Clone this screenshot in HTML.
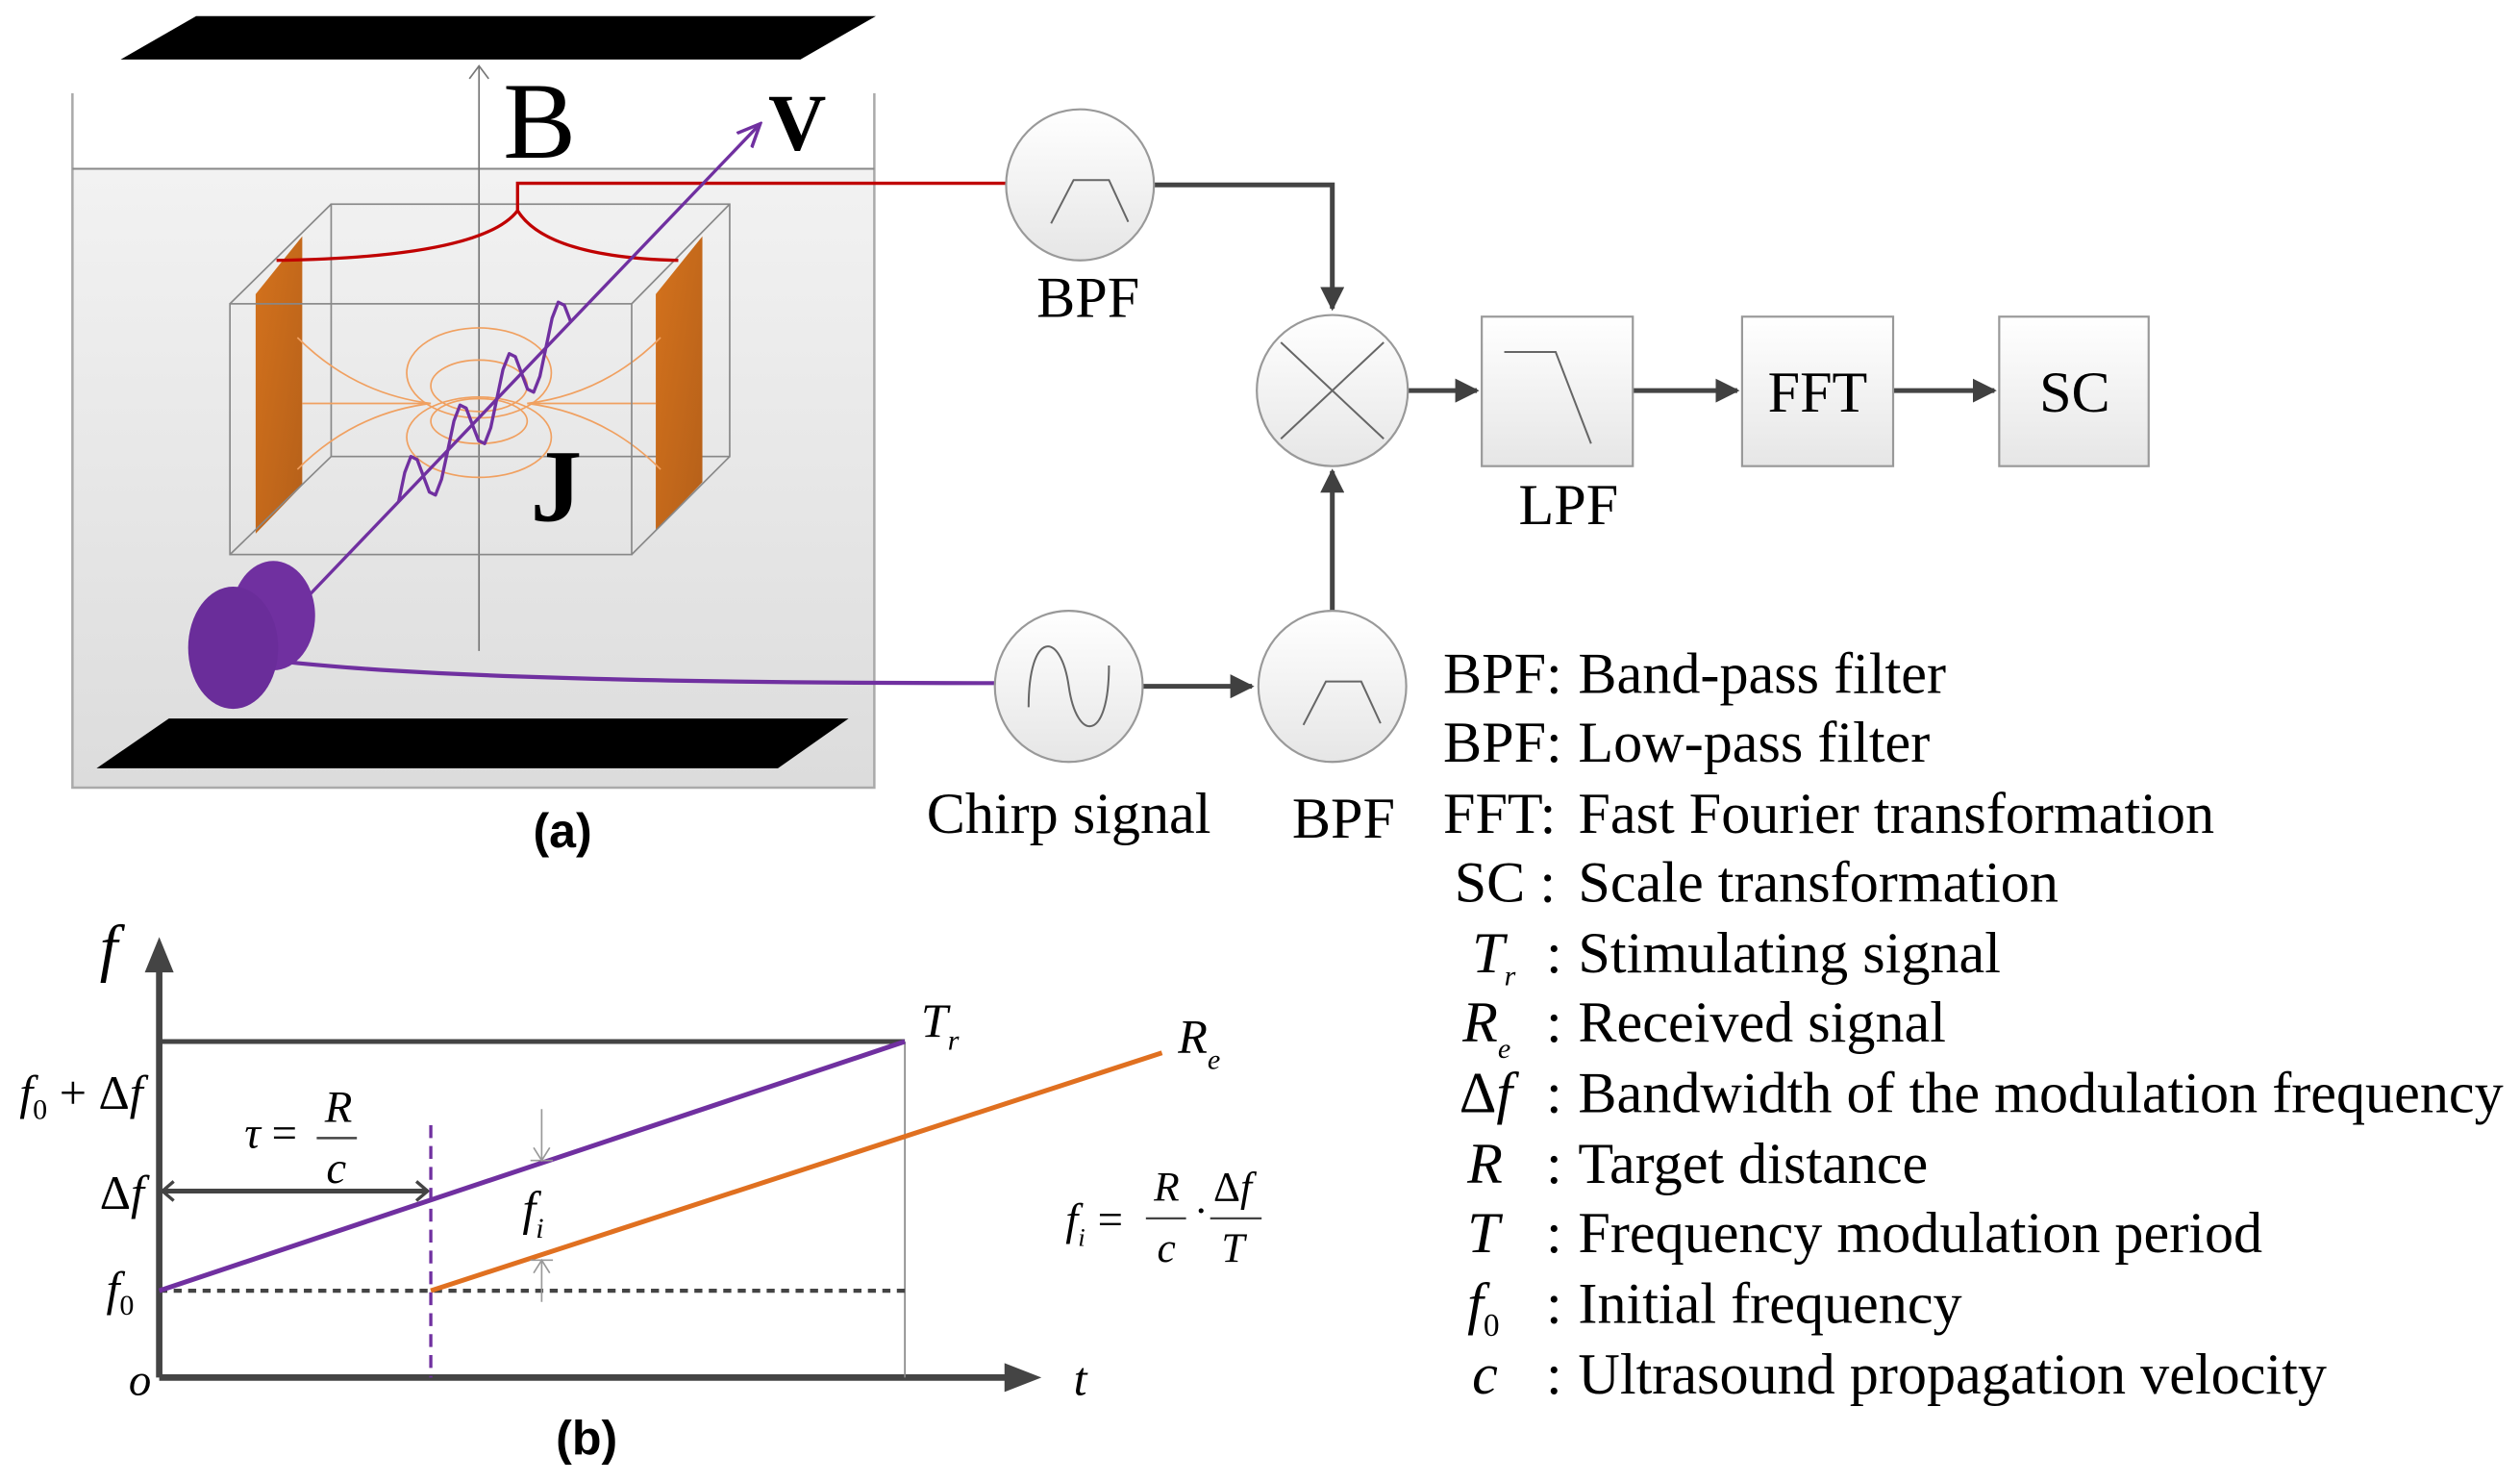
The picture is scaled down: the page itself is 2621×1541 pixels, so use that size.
<!DOCTYPE html>
<html><head><meta charset="utf-8"><style>
html,body{margin:0;padding:0;background:#fff}
svg{display:block}
text{font-family:"Liberation Serif",serif}
</style></head><body>
<svg width="2621" height="1541" viewBox="0 0 1568 922" xmlns="http://www.w3.org/2000/svg">
<defs>
<linearGradient id="water" x1="0" y1="0" x2="0" y2="1"><stop offset="0" stop-color="#f2f2f2"/><stop offset="1" stop-color="#dcdcdc"/></linearGradient>
<linearGradient id="node" x1="0" y1="0" x2="0" y2="1"><stop offset="0" stop-color="#ffffff"/><stop offset="1" stop-color="#e6e6e6"/></linearGradient>
<linearGradient id="cop" x1="0" y1="0" x2="1" y2="1"><stop offset="0" stop-color="#d4721c"/><stop offset="1" stop-color="#b5601a"/></linearGradient>
<marker id="ah" viewBox="0 0 10 10" refX="9" refY="5" markerWidth="5" markerHeight="5" orient="auto"><path d="M0,0 L10,5 L0,10 z" fill="#404040"/></marker>
<marker id="ahp" viewBox="0 0 10 10" refX="9" refY="5" markerWidth="8" markerHeight="8" orient="auto"><path d="M0,1 L9,5 L0,9" fill="none" stroke="#7030a0" stroke-width="1.3"/></marker>
</defs>

<!-- (a) tank -->
<rect x="45" y="105" width="499" height="385" fill="url(#water)"/>
<path d="M45,58 V490 H544 V58" fill="none" stroke="#aaa" stroke-width="1.5"/>
<line x1="45" y1="105" x2="544" y2="105" stroke="#888" stroke-width="1.2"/>
<polygon points="75,37 122,10 545,10 498,37" fill="#000"/>
<polygon points="60,478 105,447 528,447 484,478" fill="#000"/>
<line x1="298" y1="405" x2="298" y2="41" stroke="#777" stroke-width="1"/>
<path d="M292,49 L298,41 L304,49" fill="none" stroke="#777" stroke-width="1"/>
<text x="313" y="98" font-size="68">B</text>
<text x="478" y="93" font-size="50" font-weight="bold">V</text>

<rect x="206" y="127" width="248" height="157" fill="none" stroke="#888" stroke-width="1"/>
<polygon points="159,183 188,147 188,302 159,332" fill="url(#cop)"/>
<polygon points="408,183 437,147 437,300 408,330" fill="url(#cop)"/>
<g fill="none" stroke="#f0a060" stroke-width="1">
<ellipse cx="298" cy="232" rx="45" ry="28"/>
<ellipse cx="298" cy="240" rx="30" ry="16"/>
<ellipse cx="298" cy="272" rx="45" ry="25"/>
<ellipse cx="298" cy="262" rx="30" ry="14"/>
<path d="M188,251 H268 M328,251 H408"/>
<path d="M185,210 Q220,245 268,251 M185,292 Q220,257 268,251"/>
<path d="M411,210 Q376,245 328,251 M411,292 Q376,257 328,251"/>
</g>
<rect x="143" y="189" width="250" height="156" fill="none" stroke="#888" stroke-width="1"/>
<path d="M143,189 L206,127 M393,189 L454,127 M393,345 L454,284 M143,345 L206,284" stroke="#888" stroke-width="1" fill="none"/>
<path d="M172,162 Q300,160 322,131 V114 H627 M322,131 Q340,160 422,162" fill="none" stroke="#c00000" stroke-width="2"/>
<line x1="183" y1="380" x2="473" y2="77" stroke="#7030a0" stroke-width="2" marker-end="url(#ahp)"/>
<polyline fill="none" stroke="#7030a0" stroke-width="2" stroke-linejoin="round" points="248,312 251.8,293.9 255.6,284 259.5,285.9 263.3,296 267.1,306.1 270.9,308 274.7,298.1 278.6,280 282.4,261.9 286.2,252 290,253.9 293.8,264 297.7,274.1 301.5,276 305.3,266.1 309.1,248 312.9,229.9 316.8,220 320.6,221.9 324.4,232 328.2,242.1 332,244 335.9,234.1 339.7,216 343.5,197.9 347.3,188 351.1,189.9 355,200"/>
<text x="330" y="324" font-size="64" font-weight="bold">J</text>
<ellipse cx="170" cy="383" rx="26" ry="34" fill="#7030a0"/>
<ellipse cx="145" cy="403" rx="28" ry="38" fill="#6a2d9a"/>
<path d="M180,412 Q300,425 620,425" fill="none" stroke="#7030a0" stroke-width="2.5"/>
<text x="350" y="527" font-size="30" font-weight="bold" text-anchor="middle" style="font-family:'Liberation Sans',sans-serif">(a)</text>

<!-- block diagram -->
<g stroke="#444" stroke-width="3" fill="none">
<path d="M718,115 H829 V192" marker-end="url(#ah)"/>
<path d="M829,381 V293" marker-end="url(#ah)"/>
<path d="M876,243 H919" marker-end="url(#ah)"/>
<path d="M1016,243 H1081" marker-end="url(#ah)"/>
<path d="M1178,243 H1241" marker-end="url(#ah)"/>
<path d="M711,427 H779" marker-end="url(#ah)"/>
</g>
<g stroke="#999" stroke-width="1.3" fill="url(#node)">
<ellipse cx="672" cy="115" rx="46" ry="47"/>
<ellipse cx="829" cy="243" rx="47" ry="47"/>
<ellipse cx="665" cy="427" rx="46" ry="47"/>
<ellipse cx="829" cy="427" rx="46" ry="47"/>
<rect x="922" y="197" width="94" height="93"/>
<rect x="1084" y="197" width="94" height="93"/>
<rect x="1244" y="197" width="93" height="93"/>
</g>
<g stroke="#666" stroke-width="1.2" fill="none">
<path d="M654,139 L668,112 H690 L702,138"/>
<path d="M811,451 L825,424 H847 L859,450"/>
<path d="M797,213 L861,273 M861,213 L797,273"/>
<path d="M936,219 H968 L990,276"/>
<path d="M640,440 C640,392 660,392 665,427 C670,462 690,462 690,414"/>
</g>
<g font-size="36">
<text x="677" y="197" text-anchor="middle">BPF</text>
<text x="976" y="326" text-anchor="middle">LPF</text>
<text x="1131" y="256" text-anchor="middle">FFT</text>
<text x="1291" y="256" text-anchor="middle">SC</text>
<text x="665" y="518" text-anchor="middle">Chirp signal</text>
<text x="836" y="521" text-anchor="middle">BPF</text>
</g>

<!-- legend -->
<g font-size="36">
<text x="898" y="431">BPF:</text><text x="982" y="431">Band-pass filter</text>
<text x="898" y="474">BPF:</text><text x="982" y="474">Low-pass filter</text>
<text x="898" y="518">FFT:</text><text x="982" y="518">Fast Fourier transformation</text>
<text x="905" y="561">SC :</text><text x="982" y="561">Scale transformation</text>
<text x="916" y="605" font-style="italic">T<tspan font-size="18" dy="8">r</tspan></text>
<text x="910" y="648" font-style="italic">R<tspan font-size="18" dy="10">e</tspan></text>
<text x="908" y="692">Δ<tspan font-style="italic">f</tspan></text>
<text x="913" y="736" font-style="italic">R</text>
<text x="913" y="779" font-style="italic">T</text>
<text x="913" y="823" font-style="italic">f<tspan font-size="20" font-style="normal" dy="8">0</tspan></text>
<text x="916" y="867" font-style="italic">c</text>
<text x="962" y="605">:</text><text x="982" y="605">Stimulating signal</text>
<text x="962" y="648">:</text><text x="982" y="648">Received signal</text>
<text x="962" y="692">:</text><text x="982" y="692">Bandwidth of the modulation frequency</text>
<text x="962" y="736">:</text><text x="982" y="736">Target distance</text>
<text x="962" y="779">:</text><text x="982" y="779">Frequency modulation period</text>
<text x="962" y="823">:</text><text x="982" y="823">Initial frequency</text>
<text x="962" y="867">:</text><text x="982" y="867">Ultrasound propagation velocity</text>
</g>

<!-- (b) chart -->
<g stroke="#444">
<line x1="99" y1="857" x2="99" y2="600" stroke-width="4"/>
<polygon points="90,605 99,583 108,605" fill="#444" stroke="none"/>
<line x1="99" y1="857" x2="630" y2="857" stroke-width="4"/>
<polygon points="625,848 648,857 625,866" fill="#444" stroke="none"/>
<line x1="99" y1="648" x2="563" y2="648" stroke-width="3"/>
<line x1="563" y1="648" x2="563" y2="857" stroke-width="1" stroke="#888"/>
<line x1="99" y1="803" x2="563" y2="803" stroke-width="2.5" stroke-dasharray="5,4"/>
<line x1="101" y1="741" x2="266" y2="741" stroke-width="3"/>
<path d="M108,735 L101,741 L108,747 M259,735 L266,741 L259,747" fill="none" stroke-width="2"/>
</g>
<line x1="99" y1="803" x2="563" y2="648" stroke="#7030a0" stroke-width="3"/>
<line x1="268" y1="803" x2="723" y2="655" stroke="#e07020" stroke-width="3"/>
<line x1="268" y1="700" x2="268" y2="857" stroke="#7030a0" stroke-width="2" stroke-dasharray="8,5"/>
<g stroke="#999" stroke-width="1" fill="none">
<path d="M337,690 V722 M330,722 H344 M332,714 L337,722 L342,714"/>
<path d="M337,810 V784 M330,784 H344 M332,792 L337,784 L342,792"/>
</g>
<g font-style="italic">
<text x="62" y="603" font-size="40">f</text>
<text x="12" y="690" font-size="30">f<tspan font-size="18" font-style="normal" dy="6">0</tspan><tspan dy="-6" font-style="normal"> + Δ</tspan>f</text>
<text x="152" y="714" font-size="28">τ <tspan font-style="normal">=</tspan></text>
<text x="202" y="698" font-size="28">R</text>
<line x1="197" y1="708" x2="222" y2="708" stroke="#444" stroke-width="1.5"/>
<text x="203" y="736" font-size="28">c</text>
<text x="62" y="752" font-size="30"><tspan font-style="normal">Δ</tspan>f</text>
<text x="66" y="812" font-size="30">f<tspan font-size="18" font-style="normal" dy="6">0</tspan></text>
<text x="80" y="868" font-size="28">o</text>
<text x="668" y="868" font-size="30">t</text>
<text x="573" y="645" font-size="30">T<tspan font-size="18" dy="8">r</tspan></text>
<text x="733" y="655" font-size="30">R<tspan font-size="18" dy="10">e</tspan></text>
<text x="325" y="762" font-size="30">f<tspan font-size="18" dy="8">i</tspan></text>
<text x="663" y="768" font-size="28">f<tspan font-size="16" dy="7">i</tspan></text>
<text x="683" y="768" font-size="28" font-style="normal">=</text>
<text x="718" y="747" font-size="26">R</text>
<line x1="713" y1="758" x2="738" y2="758" stroke="#444" stroke-width="1.3"/>
<text x="720" y="785" font-size="26">c</text>
<text x="743" y="762" font-size="26" font-style="normal">·</text>
<text x="755" y="747" font-size="26"><tspan font-style="normal">Δ</tspan>f</text>
<line x1="753" y1="758" x2="785" y2="758" stroke="#444" stroke-width="1.3"/>
<text x="760" y="785" font-size="26">T</text>
</g>
<text x="365" y="905" font-size="30" font-weight="bold" text-anchor="middle" style="font-family:'Liberation Sans',sans-serif">(b)</text>
</svg>
</body></html>
